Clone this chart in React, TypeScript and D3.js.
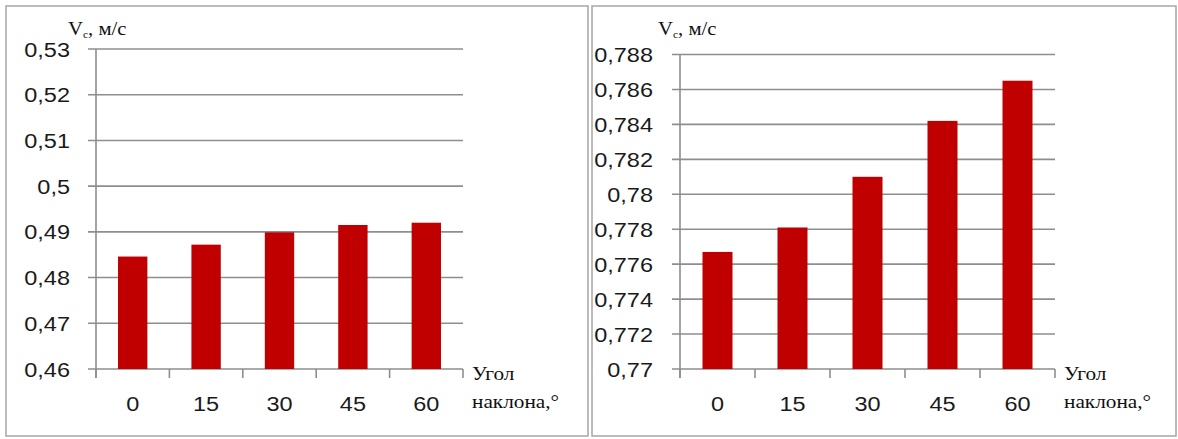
import React from "react";
import * as d3 from "d3";

const categories = ["0", "15", "30", "45", "60"];
const leftValues = [0.4846, 0.4872, 0.4899, 0.4915, 0.492];
const rightValues = [0.7767, 0.7781, 0.781, 0.7842, 0.7865];
const leftTicks = [0.46, 0.47, 0.48, 0.49, 0.5, 0.51, 0.52, 0.53];
const rightTicks = [0.77, 0.772, 0.774, 0.776, 0.778, 0.78, 0.782, 0.784, 0.786, 0.788];
const yTitleMain = "V";
const yTitleSub = "c";
const yTitleRest = ", м/с";
const xTitleLine1 = "Угол";
const xTitleLine2 = "наклона,°";

const fmt = (v: number) => String(+v.toFixed(3)).replace(".", ",");

const GRID = "#8e8e8e";
const BAR = "#c00000";
const SANS = "'Liberation Sans', Arial, sans-serif";
const SERIF = "'Liberation Serif', 'Times New Roman', serif";
const SX = 1.12;

type PanelProps = {
  box: [number, number, number, number];
  axisX: number;
  plotRight: number;
  yTop: number;
  yBottom: number;
  ticks: number[];
  values: number[];
  labelGap: number;
  titleX: number;
};

function Panel({ box, axisX, plotRight, yTop, yBottom, ticks, values, labelGap, titleX }: PanelProps) {
  const y = d3.scaleLinear().domain([ticks[0], ticks[ticks.length - 1]]).range([yBottom, yTop]);
  const x = d3.scaleBand<string>().domain(categories).range([axisX, plotRight]).padding(0);
  const step = x.bandwidth();
  const barW = step * 0.4;
  const boundaries = categories.map((c) => x(c) as number).concat([plotRight]);
  return (
    <g>
      <rect x={box[0]} y={box[1]} width={box[2] - box[0]} height={box[3] - box[1]} fill="#fff" stroke="#a6a6a6" strokeWidth={1.5} />
      {ticks.map((t) => (
        <line key={"g" + t} x1={axisX - 8} x2={plotRight} y1={y(t)} y2={y(t)} stroke={GRID} strokeWidth={1.6} />
      ))}
      {categories.map((c, i) => (
        <rect key={"b" + c} x={(x(c) as number) + (step - barW) / 2} y={y(values[i])} width={barW} height={yBottom - y(values[i])} fill={BAR} />
      ))}
      <line x1={axisX} x2={axisX} y1={yTop} y2={yBottom + 9} stroke={GRID} strokeWidth={1.6} />
      {boundaries.map((bx, i) => (
        <line key={"t" + i} x1={bx} x2={bx} y1={yBottom} y2={yBottom + 9} stroke={GRID} strokeWidth={1.6} />
      ))}
      {ticks.map((t) => (
        <g key={"l" + t} transform={`translate(${axisX - labelGap},${y(t)}) scale(${SX},1)`}>
          <text x={0} y={0} dy="0.36em" textAnchor="end" fontFamily={SANS} fontSize={21} fill="#1a1a1a">
            {fmt(t)}
          </text>
        </g>
      ))}
      {categories.map((c) => (
        <g key={"c" + c} transform={`translate(${(x(c) as number) + step / 2},${yBottom + 42}) scale(${SX},1)`}>
          <text x={0} y={0} textAnchor="middle" fontFamily={SANS} fontSize={21} fill="#1a1a1a">
            {c}
          </text>
        </g>
      ))}
      <g transform={`translate(${titleX},35) scale(1.15,1)`}>
        <text x={0} y={0} fontFamily={SERIF} fontSize={18} fill="#111">
          {yTitleMain}
          <tspan fontSize={10} dy={3}>{yTitleSub}</tspan>
          <tspan dy={-3}>{yTitleRest}</tspan>
        </text>
      </g>
      <g transform={`translate(${plotRight + 9},${yBottom + 11}) scale(1.12,1)`}>
        <text x={0} y={0} fontFamily={SERIF} fontSize={19} fill="#111">
          {xTitleLine1}
        </text>
      </g>
      <g transform={`translate(${plotRight + 9},${yBottom + 39}) scale(1.12,1)`}>
        <text x={0} y={0} fontFamily={SERIF} fontSize={19} fill="#111">
          {xTitleLine2}
        </text>
      </g>
    </g>
  );
}

export default function App() {
  return (
    <svg width={1178} height={439} style={{ position: "absolute", left: 0, top: 0, background: "#fff" }}>
      <rect x={0} y={0} width={1178} height={439} fill="#fff" />
      <Panel box={[6, 6, 588, 436]} axisX={96} plotRight={463} yTop={49} yBottom={369} ticks={leftTicks} values={leftValues} labelGap={26} titleX={68} />
      <Panel box={[592, 6, 1176, 436]} axisX={680} plotRight={1055} yTop={54.5} yBottom={369} ticks={rightTicks} values={rightValues} labelGap={27} titleX={658} />
    </svg>
  );
}
